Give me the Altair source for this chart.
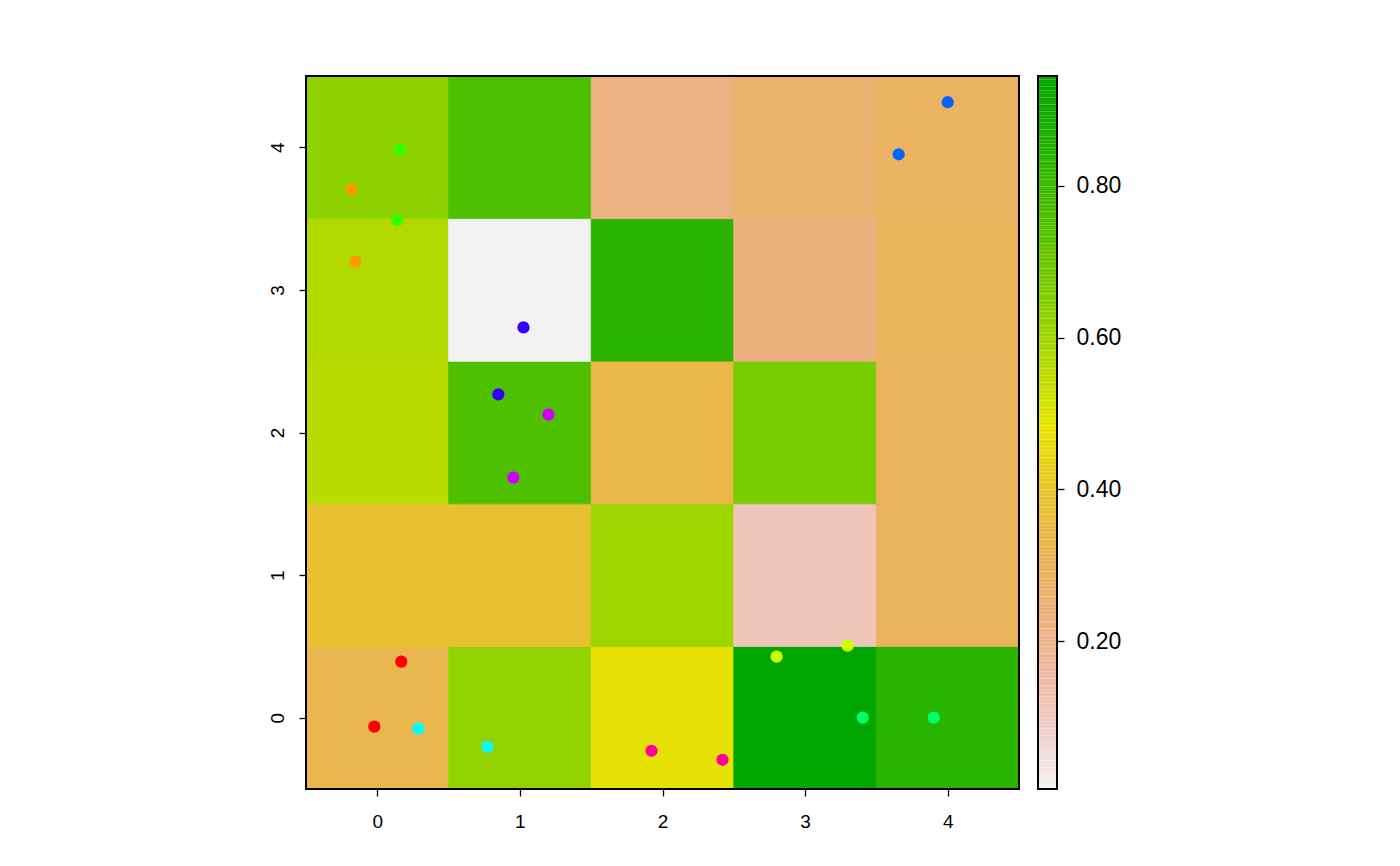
import colorsys
import numpy as np
import pandas as pd
import altair as alt

# ---- data ----
cols = [0, 1, 2, 3, 4]
rows = [0, 1, 2, 3, 4]
# cell values, one list per row (y = 0 .. 4), columns x = 0 .. 4
row0 = [0.325, 0.625, 0.475, 0.945, 0.840]
row1 = [0.381, 0.381, 0.607, 0.113, 0.296]
row2 = [0.555, 0.757, 0.334, 0.670, 0.296]
row3 = [0.569, 0.005, 0.837, 0.230, 0.300]
row4 = [0.635, 0.757, 0.217, 0.263, 0.287]
grid = [row0, row1, row2, row3, row4]

pt_x = [0.168, -0.021, -0.182, -0.154, 2.800, 3.298, 0.161, 0.140, 3.404, 3.902,
        0.288, 0.772, 3.656, 4.000, 1.025, 0.849, 1.200, 0.954, 1.923, 2.421]
pt_y = [0.393, -0.063, 3.705, 3.200, 0.428, 0.505, 3.986, 3.488, 0.000, 0.000,
        -0.077, -0.204, 3.951, 4.316, 2.737, 2.267, 2.126, 1.684, -0.232, -0.295]
pt_group = [1, 1, 2, 2, 3, 3, 4, 4, 5, 5, 6, 6, 7, 7, 8, 8, 9, 9, 10, 10]
group_colors = ["#FF0000", "#FF9900", "#CCFF00", "#33FF00", "#00FF66",
                "#00FFFF", "#0066FF", "#3300FF", "#CC00FF", "#FF0099"]

axis_ticks = [0, 1, 2, 3, 4]
legend_ticks = [0.2, 0.4, 0.6, 0.8]


# ---- palette: reversed R terrain.colors ----
def terrain(n):
    k = n // 2
    out = []
    hs = np.linspace(4 / 12, 2 / 12, k)
    vs = np.linspace(0.65, 0.9, k)
    for h, v in zip(hs, vs):
        out.append((h, 1.0, v))
    m = n - k + 1
    hs2 = np.linspace(2 / 12, 0, m)[1:]
    ss2 = np.linspace(1, 0, m)[1:]
    vs2 = np.linspace(0.9, 0.95, m)[1:]
    for h, s, v in zip(hs2, ss2, vs2):
        out.append((h, s, v))
    res = []
    for h, s, v in out:
        r, g, b = colorsys.hsv_to_rgb(h, s, v)
        res.append("#%02x%02x%02x" % (round(r * 255), round(g * 255), round(b * 255)))
    return res


palette = terrain(101)[::-1]

cells = pd.DataFrame(
    [{"x": c, "y": r, "v": grid[r][c]} for r in rows for c in cols]
)
cells["x0"] = cells["x"] - 0.5
cells["x1"] = cells["x"] + 0.5
cells["y0"] = cells["y"] - 0.5
cells["y1"] = cells["y"] + 0.5

vmin = float(cells["v"].min())
vmax = float(cells["v"].max())
color_scale = alt.Scale(domain=[vmin, vmax], range=palette, type="linear")

pts = pd.DataFrame({"x": pt_x, "y": pt_y, "g": pt_group})

FONT = "Liberation Sans"
W = 713
H = 713

xscale = alt.Scale(domain=[-0.5, 4.5], nice=False, zero=False)
yscale = alt.Scale(domain=[-0.5, 4.5], nice=False, zero=False)

xaxis = alt.Axis(values=axis_ticks, grid=False, domain=False, tickSize=7, tickColor="black",
                 tickWidth=1.3, labelFont=FONT, labelFontSize=19, labelColor="black",
                 labelPadding=16, title=None, format="d")
yaxis = alt.Axis(values=axis_ticks, grid=False, domain=False, tickSize=7, tickColor="black",
                 tickWidth=1.3, labelFont=FONT, labelFontSize=19, labelColor="black",
                 labelAngle=270, labelAlign="center", labelBaseline="bottom",
                 labelPadding=12, title=None, format="d")

rects = alt.Chart(cells).mark_rect(strokeWidth=0.8).encode(
    x=alt.X("x0:Q", scale=xscale, axis=xaxis),
    x2="x1:Q",
    y=alt.Y("y0:Q", scale=yscale, axis=yaxis),
    y2="y1:Q",
    color=alt.Color("v:Q", scale=color_scale, legend=None),
    stroke=alt.Stroke("v:Q", scale=color_scale, legend=None),
)

points = alt.Chart(pts).mark_circle(size=150, opacity=1).encode(
    x=alt.X("x:Q", scale=xscale),
    y=alt.Y("y:Q", scale=yscale),
    color=alt.Color("g:N", scale=alt.Scale(domain=list(range(1, 11)), range=group_colors),
                    legend=None),
)

frame_main = alt.Chart(pts).mark_rect(fill=None, stroke="black", strokeWidth=1.6).encode(
    x=alt.value(0), x2=alt.value(W), y=alt.value(0), y2=alt.value(H)
)

main = alt.layer(rects, points, frame_main).resolve_scale(color="independent").properties(
    width=W, height=H
)

# colour bar
edges = np.linspace(vmin, vmax, 201)
bar = pd.DataFrame({"lo": edges[:-1], "hi": edges[1:]})
bar["mid"] = (bar["lo"] + bar["hi"]) / 2

bar_rects = alt.Chart(bar).mark_rect(strokeWidth=0).encode(
    y=alt.Y("lo:Q", scale=alt.Scale(domain=[vmin, vmax], nice=False, zero=False),
            axis=alt.Axis(orient="right", values=legend_ticks, format=".2f", grid=False,
                          domain=False, tickSize=7, tickColor="black", tickWidth=1.3,
                          labelFont=FONT, labelFontSize=23, labelColor="black",
                          labelPadding=12, title=None)),
    y2="hi:Q",
    color=alt.Color("mid:Q", scale=color_scale, legend=None),
)
frame_bar = alt.Chart(bar).mark_rect(fill=None, stroke="black", strokeWidth=1.6).encode(
    x=alt.value(0), x2=alt.value(19), y=alt.value(0), y2=alt.value(H)
)
colorbar = alt.layer(bar_rects, frame_bar).properties(width=19, height=H)

chart = alt.hconcat(main, colorbar, spacing=15).properties(
    padding={"left": 267, "top": 74, "right": 5, "bottom": 5}
).configure_view(stroke=None).configure(background="white")

chart.save("out.html", embed_options={"renderer": "svg", "actions": False})
